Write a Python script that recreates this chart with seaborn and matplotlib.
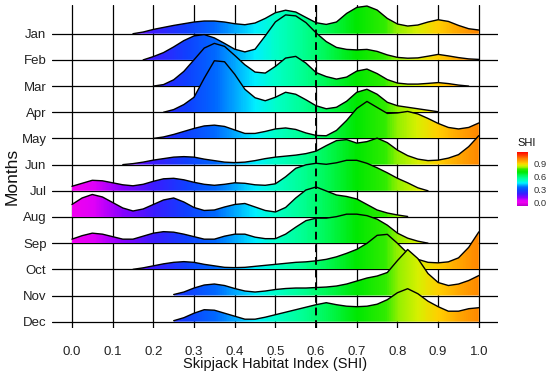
import numpy as np
import pandas as pd
import matplotlib
matplotlib.use("Agg")
import matplotlib.pyplot as plt
import seaborn as sns
from matplotlib.colors import LinearSegmentedColormap, Normalize
from matplotlib.path import Path
from matplotlib.patches import PathPatch
from matplotlib.cm import ScalarMappable

sns.set_theme(style="white")
plt.rcParams["font.family"] = ["Liberation Sans", "DejaVu Sans"]

months = ["Jan", "Feb", "Mar", "Apr", "May", "Jun",
          "Jul", "Aug", "Sep", "Oct", "Nov", "Dec"]

shi = [0.0, 0.025, 0.05, 0.075, 0.1, 0.125, 0.15, 0.175, 0.2, 0.225,
       0.25, 0.275, 0.3, 0.325, 0.35, 0.375, 0.4, 0.425, 0.45, 0.475,
       0.5, 0.525, 0.55, 0.575, 0.6, 0.625, 0.65, 0.675, 0.7, 0.725,
       0.75, 0.775, 0.8, 0.825, 0.85, 0.875, 0.9, 0.925, 0.95, 0.975, 1.0]

N = None
jan = [N, N, N, N, N, N, 0, 1.7, 4.3, 6.3, 8.3, 10, 11.7, 12.7, 12.7, 11.7, 10, 9, 10.7, 15.3,
       21, 23.5, 21.7, 16.3, 11, 9.3, 11.7, 20.3, 26.3, 27.7, 23.7, 15.3, 9.7, 7.7, 8.7, 11.7,
       14, 12.3, 8.3, 5, 3.7]
feb = [N, N, N, N, N, N, N, 0, 3.3, 7.3, 13, 19.3, 24, 25.3, 22, 16.5, 10.7, 8, 10.7, 24,
       38, 45, 44, 37.3, 27, 18.3, 12.5, 10.5, 10, 10.5, 8.5, 5, 2.5, 1.7, 2, 3.7,
       5.5, 4, 2.3, 1, 0.5]
mar = [N, N, N, N, N, N, N, N, 0, 1.5, 6.3, 14.7, 26.3, 38, 42.7, 39.7, 30.7, 21.3, 14, 13,
       19.7, 28, 29.7, 23, 13.5, 9.5, 7, 9, 15, 17, 12.5, 6.5, 3, 2, 2, 2.7,
       3.5, 2.5, 1, 0, N]
apr = [N, N, N, N, N, N, N, N, N, 0, 2.7, 7.7, 15, 34, 51.5, 50.5, 38, 23, 14.5, 11.5,
       15, 20, 18, 12.5, 6.5, 3.5, 5, 11, 20, 23, 18, 10, 6.5, 5, 3.5, 2,
       0.5, N, N, N, N]
may = [N, N, N, N, N, N, N, N, 0, 1.5, 4, 7, 10, 12.5, 13.3, 12, 8.5, 5, 5, 7,
       9.5, 10.5, 9, 5.5, 3, 2.7, 8, 18, 30, 37, 31, 25, 25.5, 27, 24.5, 20,
       15, 11, 9.5, 11, 15.5]
jun = [N, N, N, N, N, 0, 1, 2.5, 4.5, 6, 7.5, 8, 7.5, 5.5, 4, 2.5, 2, 2.5, 4, 6,
       7.5, 8.5, 9.5, 11, 13.5, 19, 24, 25, 21.5, 23, 26.5, 22, 14.5, 9, 5.5, 4,
       4.5, 6.5, 10, 18, 29]
jul = [4.5, 7.5, 10.5, 10, 8, 6, 5, 6.5, 9.5, 12, 12.5, 11, 8.5, 6.5, 5.5, 6.5, 8, 7.5, 6, 5.5,
       7, 14, 22.5, 26, 27.5, 26.5, 28, 30.5, 30.5, 27.5, 23, 18, 12.5, 8, 3, 0,
       N, N, N, N, N]
aug = [12.5, 19, 22.5, 20, 14.5, 9, 6, 8, 12.5, 17, 19, 15, 9.5, 6.5, 7, 10, 12.5, 13.5, 10, 6.5,
       5, 9.5, 19, 27, 30, 26, 22, 20.5, 18, 12.5, 7, 4, 2, 0.5, N, N,
       N, N, N, N, N]
sep = [4, 7.5, 10, 9, 6.5, 4, 4, 7, 10, 11.5, 11, 9, 6.5, 4, 4, 7, 9, 9, 6, 4.5,
       4.5, 9, 16, 22.5, 25, 25, 26.5, 29, 29, 27.5, 24, 18, 10, 5, 2, 0,
       N, N, N, N, N]
oct_ = [N, N, N, N, N, N, 0, 1.5, 3.5, 5.5, 7, 7.7, 7, 5, 3.5, 2, 1.7, 2, 3, 4,
        5, 6, 7, 7.5, 8.5, 10, 12.5, 16, 20, 26, 34, 35, 26, 16, 10, 7,
        6.5, 7.5, 11.5, 22, 37.5]
nov = [N, N, N, N, N, N, N, N, N, N, 1, 3.5, 7.5, 10.5, 11.5, 10, 7, 4.5, 3.5, 4.5,
       6, 7, 7.5, 7.5, 8, 8.5, 9.5, 11.5, 14.5, 17.5, 19.5, 23, 35, 46, 37, 22,
       13, 10, 11.5, 15, 20]
dec = [N, N, N, N, N, N, N, N, N, N, 1, 4, 8.5, 12, 11.5, 8.5, 5.5, 2.5, 2.5, 4.5,
       7, 9.5, 12, 14.5, 17, 19, 17, 15.5, 15, 15.5, 17.5, 22, 29, 33, 28, 20.5,
       15, 10.5, 10.5, 13, 14]

series = [jan, feb, mar, apr, may, jun, jul, aug, sep, oct_, nov, dec]

rows = []
for m, vals in zip(months, series):
    for x, v in zip(shi, vals):
        if v is not None:
            rows.append((m, x, v))
df = pd.DataFrame(rows, columns=["month", "shi", "dens"])

# colour scale (value -> colour)
cb_ticks = [0.0, 0.3, 0.6, 0.9]
vmin, vmax = -0.075, 1.165
stops = [(-0.075, "#B400C8"), (0.0, "#F000F0"), (0.05, "#E000F8"), (0.12, "#8A00FF"),
         (0.2, "#3A1CFF"), (0.28, "#1040FF"), (0.35, "#0068FF"), (0.4, "#00A8FF"),
         (0.45, "#00F0FF"), (0.5, "#00FFC8"), (0.57, "#00FF90"), (0.63, "#00F850"),
         (0.7, "#00E800"), (0.77, "#30EC00"), (0.8, "#90F000"), (0.85, "#D8F000"),
         (0.9, "#FFD000"), (0.95, "#FFA800"), (1.0, "#FF8800"), (1.1, "#FF3000"),
         (1.165, "#FF0000")]
cmap = LinearSegmentedColormap.from_list(
    "shi", [((v - vmin) / (vmax - vmin), c) for v, c in stops])
norm = Normalize(vmin, vmax)

W, H = 550, 376
fig = plt.figure(figsize=(W / 100, H / 100), dpi=100)
ax = fig.add_axes([52 / W, 48 / H, 446 / W, 323 / H])
ax.set_xlim(-0.049, 1.047)
ax.set_ylim(-6.3, 316.7)

spacing = 26.18
baselines = {m: (11 - i) * spacing for i, m in enumerate(months)}

for i, m in enumerate(months):
    d = df[df["month"] == m]
    xs = d["shi"].to_numpy()
    hs = d["dens"].to_numpy()
    b = baselines[m]
    z = 2 + 2 * i
    verts = [(xs[0], b)] + list(zip(xs, b + hs)) + [(xs[-1], b), (xs[0], b)]
    patch = PathPatch(Path(verts), facecolor="none", edgecolor="none")
    ax.add_patch(patch)
    grad = np.linspace(xs[0], xs[-1], 300)[None, :]
    im = ax.imshow(grad, cmap=cmap, norm=norm, aspect="auto",
                   extent=[xs[0], xs[-1], b, b + hs.max() + 1],
                   origin="lower", zorder=z, interpolation="bilinear")
    im.set_clip_path(patch)
    sns.lineplot(x=xs, y=b + hs, ax=ax, color="black", lw=1.0,
                 zorder=z + 1, sort=False, estimator=None)

ax.set_xlim(-0.049, 1.047)
ax.set_ylim(-6.3, 316.7)
xt = [0.0, 0.1, 0.2, 0.3, 0.4, 0.5, 0.6, 0.7, 0.8, 0.9, 1.0]
ax.set_xticks(xt)
ax.set_xticklabels([f"{v:.1f}" for v in xt])
ax.set_yticks([baselines[m] for m in months])
ax.set_yticklabels(months)
ax.grid(True, color="black", lw=0.9)
ax.set_axisbelow(True)
for s in ax.spines.values():
    s.set_visible(False)
ax.tick_params(axis="both", length=0, labelsize=9.5, labelcolor="#222222")
ax.tick_params(axis="y", pad=4)
ax.tick_params(axis="x", pad=13)
ax.axvline(0.6, color="black", ls=(0, (4, 2.5)), lw=1.4, zorder=100)
ax.set_xlabel("")
ax.set_ylabel("")

fig.text(275.5 / W, 1 - 364 / H, "Skipjack Habitat Index (SHI)", ha="center",
         va="center", fontsize=10.5, color="#111111")
fig.text(12 / W, 1 - 176 / H, "Months", rotation=90, ha="center", va="center",
         fontsize=12.5, color="#111111")

cax = fig.add_axes([516.7 / W, (H - 206) / H, 11 / W, 54.3 / H])
cb = fig.colorbar(ScalarMappable(norm=norm, cmap=cmap), cax=cax, ticks=cb_ticks)
cb.outline.set_visible(False)
cb.ax.tick_params(length=0, labelsize=6.8, labelcolor="#333333", pad=4)
cb.ax.set_yticklabels([f"{v:.1f}" for v in cb_ticks])
fig.text(517 / W, 1 - 143 / H, "SHI", ha="left", va="center", fontsize=8, color="#111111")

fig.savefig("out.png", dpi=100)
